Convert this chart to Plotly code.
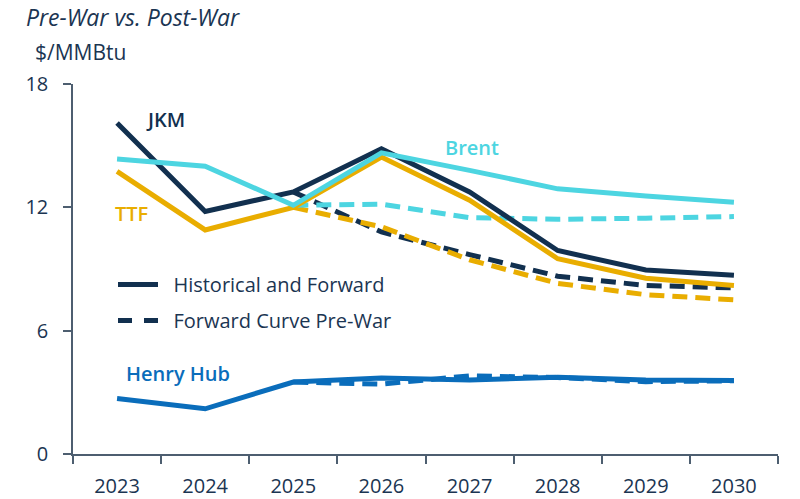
import plotly.graph_objects as go

years = ["2023", "2024", "2025", "2026", "2027", "2028", "2029", "2030"]
fwd_years = ["2025", "2026", "2027", "2028", "2029", "2030"]

jkm = [16.1, 11.8, 12.75, 14.85, 12.75, 9.9, 8.95, 8.7]
ttf = [13.75, 10.9, 12.0, 14.45, 12.35, 9.5, 8.55, 8.2]
brent = [14.35, 14.0, 12.1, 14.65, 13.8, 12.9, 12.55, 12.25]
henry = [2.7, 2.2, 3.5, 3.7, 3.6, 3.73, 3.6, 3.58]

jkm_pre = [12.75, 10.8, 9.7, 8.65, 8.2, 8.08]
ttf_pre = [12.0, 11.05, 9.45, 8.3, 7.75, 7.5]
brent_pre = [12.1, 12.15, 11.5, 11.42, 11.47, 11.55]
henry_pre = [3.5, 3.4, 3.8, 3.72, 3.52, 3.56]

C_JKM = "#12304f"
C_TTF = "#e9ad00"
C_BRENT = "#4dd5e1"
C_HH = "#0a6dbb"
C_TEXT = "#1b3552"
C_AXIS = "#4d5e70"
FONT = "Open Sans"

DASH = "15px,8px"
W = 5

# the page body margin is removed by a post script, so the figure sits at (0, 0)
FW, FH = 800, 499
# plot-area box in page pixels: x 73..778, y 84..454
L, R, T, B = 73, 800 - 778, 84, 499 - 454
PW, PH = FW - L - R, FH - T - B


def px(xp):
    return (xp - L) / PW


def py(yp):
    return (FH - B - yp) / PH


fig = go.Figure()


def add(x, y, color, dash=None):
    fig.add_trace(go.Scatter(
        x=x, y=y, mode="lines", showlegend=False, hoverinfo="skip",
        line=dict(color=color, width=W, dash=dash or "solid"),
    ))


# dashed pre-war curves
add(fwd_years, henry_pre, C_HH, DASH)
add(fwd_years, jkm_pre, C_JKM, DASH)
add(fwd_years, ttf_pre, C_TTF, DASH)
add(fwd_years, brent_pre, C_BRENT, DASH)
# solid historical and forward
add(years, henry, C_HH)
add(years, jkm, C_JKM)
add(years, ttf, C_TTF)
add(years, brent, C_BRENT)

# legend entries
fig.add_trace(go.Scatter(x=[None], y=[None], mode="lines", name="\u00a0\u00a0Historical and Forward",
                         legendgroup="a", line=dict(color=C_JKM, width=W)))
fig.add_trace(go.Scatter(x=[None], y=[None], mode="lines", name="\u00a0\u00a0Forward Curve Pre-War",
                         legendgroup="b", line=dict(color=C_JKM, width=W, dash="14px,12px")))


def label(text, x, y, color):
    fig.add_annotation(x=x, y=y, xref="x", yref="y", text=text, showarrow=False,
                       font=dict(family=FONT, size=20, color=color, weight=600))


label("JKM", 0.55, 16.25, C_JKM)
label("TTF", 0.16, 11.72, C_TTF)
label("Brent", 4.03, 14.89, C_BRENT)
label("Henry Hub", 0.69, 3.9, C_HH)

fig.add_annotation(x=px(25), y=py(0), xref="paper", yref="paper", xanchor="left", yanchor="top",
                   text="<i>Pre-War vs. Post-War</i>", showarrow=False, borderpad=0,
                   font=dict(family=FONT, size=23, color=C_TEXT))
fig.add_annotation(x=px(33), y=py(52), xref="paper", yref="paper", xanchor="left", yanchor="middle",
                   text="$/MMBtu", showarrow=False,
                   font=dict(family=FONT, size=21, color=C_TEXT))

fig.update_layout(
    width=FW, height=FH,
    margin=dict(l=L, r=R, t=T, b=B),
    paper_bgcolor="white", plot_bgcolor="white",
    font=dict(family=FONT, size=20, color=C_TEXT),
    showlegend=True,
    legend=dict(x=px(113), y=py(265), xanchor="left", yanchor="top",
                bgcolor="rgba(0,0,0,0)", font=dict(size=20, color=C_TEXT),
                itemwidth=40, tracegroupgap=7),
    xaxis=dict(type="category", categoryorder="array", categoryarray=years,
               range=[-0.5, 7.5], showgrid=False, showline=True, linecolor=C_AXIS, linewidth=1.5,
               ticks="outside", ticklen=8, tickcolor=C_AXIS, tickwidth=1.5, tickson="boundaries",
               automargin=False,
               ticklabelstandoff=13, tickfont=dict(size=20, color=C_TEXT)),
    yaxis=dict(range=[0, 18], tickvals=[0, 6, 12, 18], showgrid=False, zeroline=False,
               showline=True, linecolor=C_AXIS, linewidth=1.5, automargin=False,
               ticks="outside", ticklen=8, tickcolor=C_AXIS, tickwidth=1.5,
               ticklabelstandoff=11, tickfont=dict(size=20, color=C_TEXT)),
)

fig.write_html("out.html",
               config={"displayModeBar": False},
               post_script="document.body.style.margin='0';document.body.style.overflow='hidden';")
